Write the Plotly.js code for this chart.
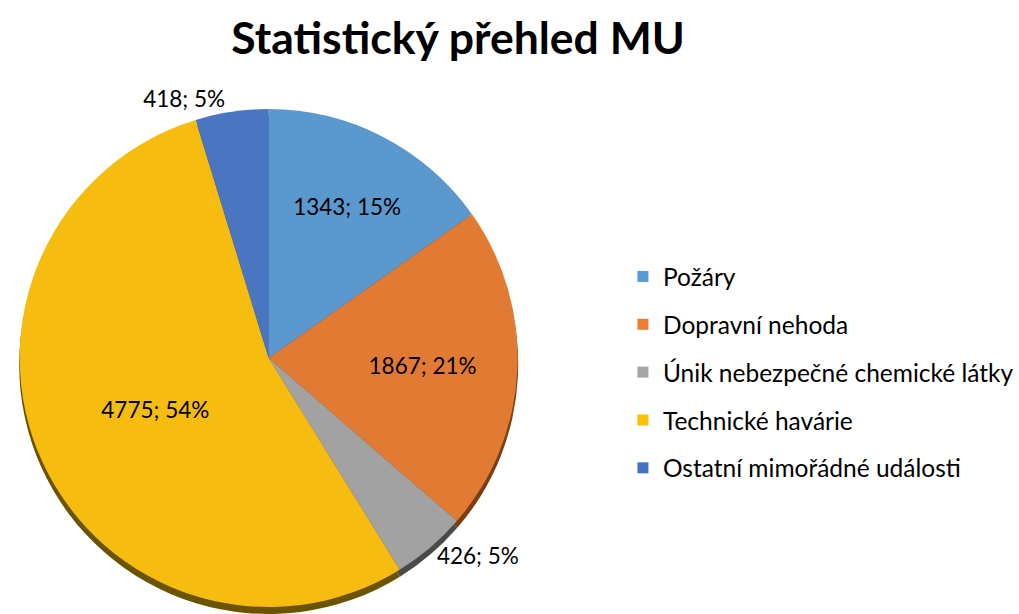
<!DOCTYPE html>
<html>
<head>
<meta charset="utf-8">
<script src="https://cdn.plot.ly/plotly-3.0.1.min.js"></script>
<style>html,body{margin:0;padding:0;background:#fff;}#chart{width:1019px;height:614px;}</style>
</head>
<body>
<div id="chart"></div>
<script>
const categories = ["Požáry", "Dopravní nehoda", "Únik nebezpečné chemické látky", "Technické havárie", "Ostatní mimořádné události"];
const values = [1343, 1867, 426, 4775, 418];
const legendColors = ["#5B9BD5", "#ED7D31", "#A5A5A5", "#FFC000", "#4472C4"];
const sliceColors = ["#5B98CE", "#E17A33", "#A2A2A2", "#F6BC10", "#4A76C1"];
const edgeColors = ["#2f5474", "#7a3e12", "#4a4a4a", "#6b5300", "#2a4274"];
const textPositions = ["inside", "inside", "outside", "inside", "outside"];

const W = 1019, H = 614;
const px = (a, b) => [a / W, b / W];
const py = (top, bottom) => [1 - bottom / H, 1 - top / H];

const shadow = {
  type: "pie", values: values, labels: categories, sort: false, direction: "clockwise", rotation: 0,
  marker: {colors: edgeColors, line: {width: 0}},
  textinfo: "none", hoverinfo: "skip", showlegend: false,
  domain: {x: px(16, 524), y: py(115, 614)}
};
const pie = {
  type: "pie", values: values, labels: categories, sort: false, direction: "clockwise", rotation: 0,
  marker: {colors: sliceColors, line: {width: 0}},
  texttemplate: "%{value}; %{percent:.0%}",
  textposition: textPositions,
  insidetextorientation: "horizontal",
  textfont: {family: "Lato, 'Open Sans', sans-serif", size: 22.5, color: "#000"},
  showlegend: false,
  domain: {x: px(16, 524), y: py(109, 607)}
};
const legendTraces = categories.map((c, i) => ({
  type: "scatter", mode: "markers", x: [null], y: [null], name: c,
  legendgroup: "g" + i,
  marker: {symbol: "square", size: 11, color: legendColors[i]},
  hoverinfo: "skip"
}));

const layout = {
  width: W, height: H,
  margin: {l: 0, r: 0, t: 0, b: 0},
  paper_bgcolor: "#fff", plot_bgcolor: "#fff",
  title: {text: "<b>Statistický přehled MU</b>", x: 458 / W, xanchor: "center", y: 1 - 38 / H, yanchor: "middle",
    font: {family: "Lato, 'Open Sans', sans-serif", size: 44.5, color: "#000"}},
  xaxis: {visible: false}, yaxis: {visible: false},
  showlegend: true,
  legend: {x: 626 / W, xanchor: "left", y: 1 - 254 / H, yanchor: "top", tracegroupgap: 13,
    font: {family: "Lato, 'Open Sans', sans-serif", size: 24.5, color: "#000"}, bgcolor: "rgba(0,0,0,0)"}
};

Plotly.newPlot("chart", [shadow, pie].concat(legendTraces), layout, {displayModeBar: false, staticPlot: true});
</script>
</body>
</html>
